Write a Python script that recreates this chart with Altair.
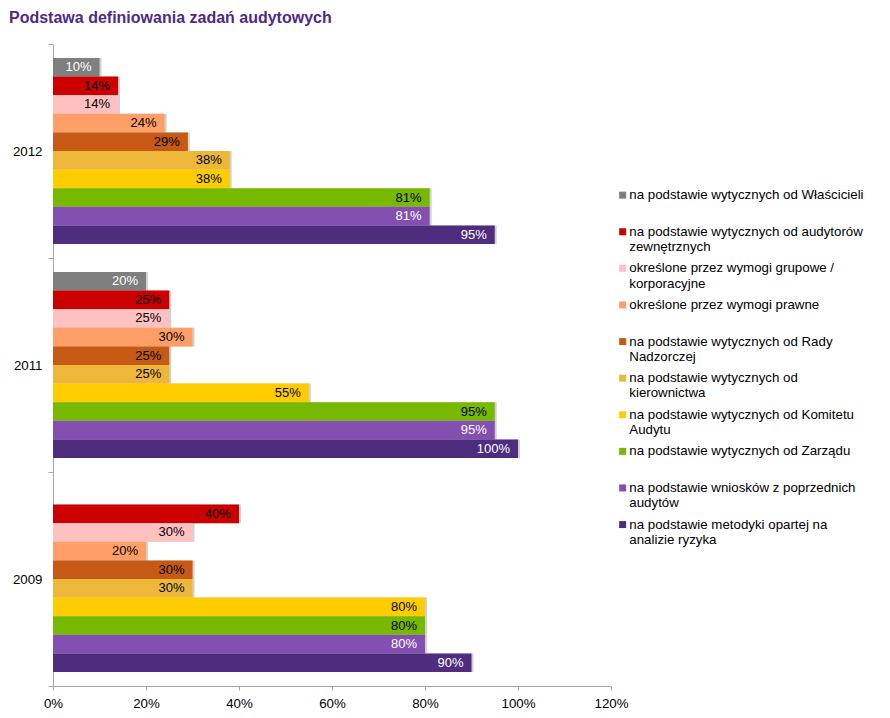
import altair as alt
import pandas as pd

years = ["2012", "2011", "2009"]
series = [
    "na podstawie wytycznych od Właścicieli",
    "na podstawie wytycznych od audytorów zewnętrznych",
    "określone przez wymogi grupowe / korporacyjne",
    "określone przez wymogi prawne",
    "na podstawie wytycznych od Rady Nadzorczej",
    "na podstawie wytycznych od kierownictwa",
    "na podstawie wytycznych od Komitetu Audytu",
    "na podstawie wytycznych od Zarządu",
    "na podstawie wniosków z poprzednich audytów",
    "na podstawie metodyki opartej na analizie ryzyka",
]
legend_lines = [
    ["na podstawie wytycznych od Właścicieli"],
    ["na podstawie wytycznych od audytorów", "zewnętrznych"],
    ["określone przez wymogi grupowe /", "korporacyjne"],
    ["określone przez wymogi prawne"],
    ["na podstawie wytycznych od Rady", "Nadzorczej"],
    ["na podstawie wytycznych od", "kierownictwa"],
    ["na podstawie wytycznych od Komitetu", "Audytu"],
    ["na podstawie wytycznych od Zarządu"],
    ["na podstawie wniosków z poprzednich", "audytów"],
    ["na podstawie metodyki opartej na", "analizie ryzyka"],
]
values_2012 = [10, 14, 14, 24, 29, 38, 38, 81, 81, 95]
values_2011 = [20, 25, 25, 30, 25, 25, 55, 95, 95, 100]
values_2009 = [None, 40, 30, 20, 30, 30, 80, 80, 80, 90]

colors = ["#7F7F7F", "#CC0000", "#FFC0C0", "#FF9E66", "#C65A14",
          "#EDB83A", "#FFCC00", "#77B800", "#834FB0", "#4E2C7E"]
white_label_series = [series[0], series[8], series[9]]

rows = []
for yr, vals in zip(years, [values_2012, values_2011, values_2009]):
    for s, v in zip(series, vals):
        if v is not None:
            rows.append({"year": yr, "series": s, "value": v})
df = pd.DataFrame(rows)

FONT = "Liberation Sans"

def js_lines(lines):
    return "[" + ",".join("'" + l + "'" for l in lines) + "]"

label_map = "{" + ",".join("'" + s + "':" + js_lines(l) for s, l in zip(series, legend_lines)) + "}"
label_expr = label_map + "[datum.label]"

y_enc = alt.Y("year:N", sort=years, title=None,
              scale=alt.Scale(paddingInner=0, paddingOuter=0),
              axis=alt.Axis(tickBand="extent", domainColor="#A6A6A6", tickColor="#A6A6A6",
                            tickSize=5, labelFontSize=13.3, labelFont=FONT, labelColor="#000000",
                            labelPadding=6, grid=False))
yoff_enc = alt.YOffset("series:N", sort=series,
                       scale=alt.Scale(domain=series, paddingInner=0, paddingOuter=0.75))
x_enc = alt.X("value:Q", title=None,
              scale=alt.Scale(domain=[0, 120], nice=False),
              axis=alt.Axis(values=[0, 20, 40, 60, 80, 100, 120], labelExpr="datum.value + '%'",
                            labelFlush=False, grid=False, domainColor="#A6A6A6", tickColor="#A6A6A6",
                            tickSize=4, labelFontSize=13.3, labelFont=FONT, labelColor="#000000",
                            labelPadding=6))

base = alt.Chart(df)

shadow = base.mark_bar(color="#000000", opacity=0.18, xOffset=2, yOffset=2, cornerRadius=0).encode(
    x=x_enc, y=y_enc, yOffset=yoff_enc)

bars = base.mark_bar(cornerRadius=0).encode(
    x=x_enc, y=y_enc, yOffset=yoff_enc,
    color=alt.Color("series:N", sort=series,
                    scale=alt.Scale(domain=series, range=colors),
                    legend=alt.Legend(title=None, orient="none", legendX=563, legendY=144.5,
                                      columns=1, gridAlign="all", rowPadding=6.6,
                                      symbolType="square", symbolSize=49, symbolStrokeWidth=0,
                                      labelFontSize=13.3, labelFont=FONT, labelColor="#000000",
                                      labelOffset=0, labelLimit=400, labelBaseline="middle",
                                      labelExpr=label_expr)))

labels = base.mark_text(align="right", baseline="middle", dx=-8, fontSize=13, font=FONT).encode(
    x=x_enc, y=y_enc, yOffset=yoff_enc,
    color=alt.condition(alt.FieldOneOfPredicate(field="series", oneOf=white_label_series),
                        alt.value("#FFFFFF"), alt.value("#000000")))
labels = labels.transform_calculate(pct="datum.value + '%'").encode(text="pct:N")

chart = alt.layer(shadow, bars, labels).properties(
    width=558, height=642,
    padding={"left": 45, "top": 36, "right": 271, "bottom": 24},
    autosize=alt.AutoSizeParams(type="none"),
    title=alt.TitleParams("Podstawa definiowania zadań audytowych", anchor="start", frame="group",
                          dx=-44, offset=11, fontSize=16, fontWeight="bold", font=FONT,
                          color="#4F2A85"),
).configure_view(stroke=None)

chart.save("out.html", embed_options={"renderer": "svg", "actions": False})
